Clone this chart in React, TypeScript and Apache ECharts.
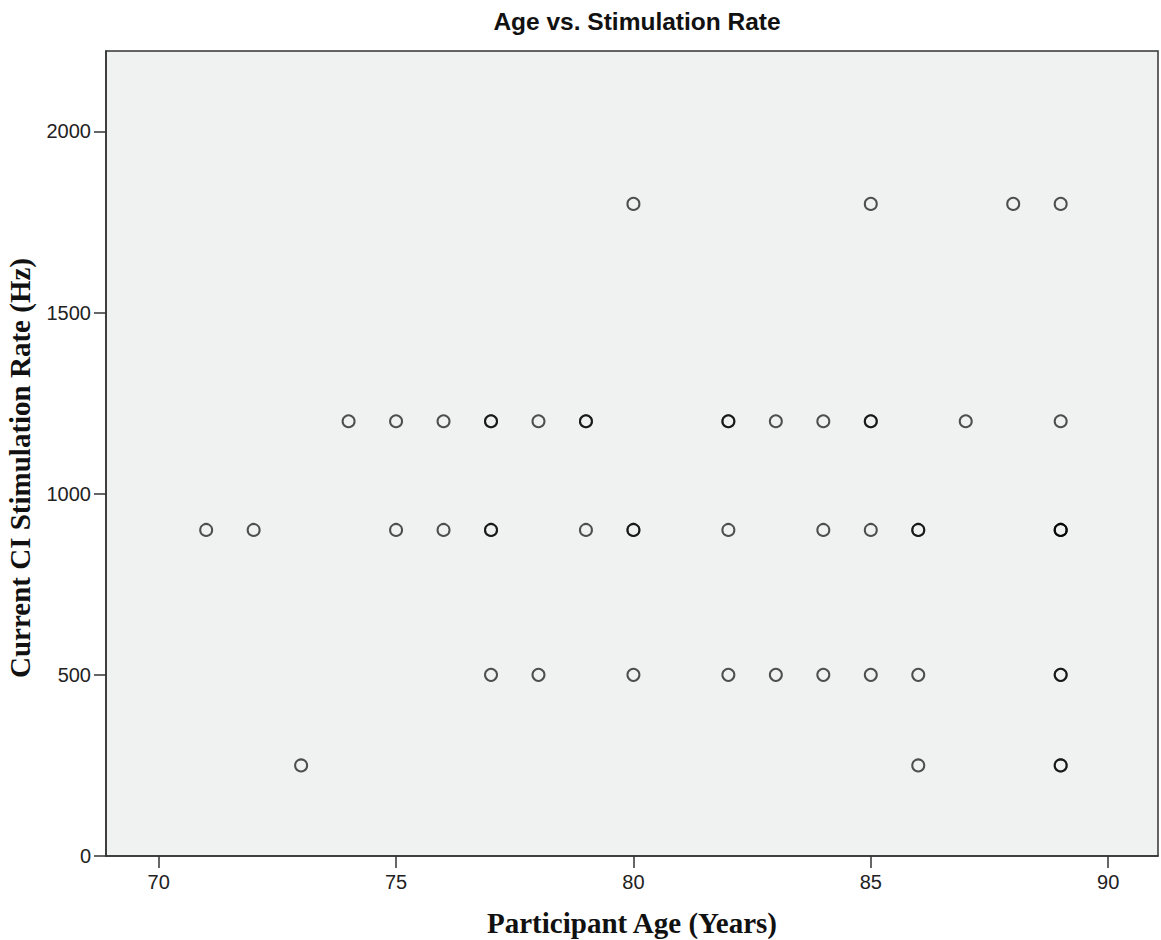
import React, { useEffect, useRef } from "react";
import * as echarts from "echarts";

const title = "Age vs. Stimulation Rate";
const xName = "Participant Age (Years)";
const yName = "Current CI Stimulation Rate (Hz)";
const xTicks = [70, 75, 80, 85, 90];
const yTicks = [0, 500, 1000, 1500, 2000];

// Participant ages (years)
const ages = [
  80, 85, 88, 89,
  74, 75, 76, 77, 77, 78, 79, 79, 82, 82, 83, 84, 85, 85, 87, 89,
  71, 72, 75, 76, 77, 77, 79, 80, 80, 82, 84, 85, 86, 86, 89, 89, 89,
  77, 78, 80, 82, 83, 84, 85, 86, 89, 89,
  73, 86, 89, 89,
];
// Current CI stimulation rate (Hz)
const rates = [
  1800, 1800, 1800, 1800,
  1200, 1200, 1200, 1200, 1200, 1200, 1200, 1200, 1200, 1200, 1200, 1200, 1200, 1200, 1200, 1200,
  900, 900, 900, 900, 900, 900, 900, 900, 900, 900, 900, 900, 900, 900, 900, 900, 900,
  500, 500, 500, 500, 500, 500, 500, 500, 500, 500,
  250, 250, 250, 250,
];

export default function App() {
  const ref = useRef<HTMLDivElement>(null);
  useEffect(() => {
    if (!ref.current) return;
    const chart = echarts.init(ref.current, null, { renderer: "svg" });
    const data = ages.map((a, i) => [a, rates[i]]);
    chart.setOption({
      animation: false,
      backgroundColor: "#ffffff",
      title: {
        text: title,
        left: 632,
        top: 4,
        textAlign: "center",
        textStyle: { fontFamily: "Liberation Sans", fontWeight: "bold", fontSize: 24.5, color: "#111" },
      },
      graphic: [
        {
          type: "text",
          x: 20,
          y: 468,
          rotation: Math.PI / 2,
          style: {
            text: yName,
            fontFamily: "Liberation Serif",
            fontWeight: "bold",
            fontSize: 29,
            fill: "#111",
            align: "center",
            verticalAlign: "middle",
          },
        },
      ],
      grid: {
        left: 106,
        top: 51,
        right: 3,
        bottom: 84,
        outerBoundsMode: "none",
        containLabel: false,
        show: true,
        backgroundColor: "#f0f1f1",
        borderColor: "#333",
        borderWidth: 1.5,
      },
      xAxis: {
        type: "value",
        min: 68.89,
        max: 91.05,
        name: xName,
        nameLocation: "middle",
        nameGap: 52,
        nameTextStyle: { fontFamily: "Liberation Serif", fontWeight: "bold", fontSize: 29, color: "#111" },
        axisLine: { show: true, lineStyle: { color: "#333", width: 1.5 } },
        axisTick: { show: true, length: 12, customValues: xTicks, lineStyle: { color: "#333", width: 1.5 } },
        axisLabel: {
          customValues: xTicks,
          formatter: (v: number) => String(v),
          fontFamily: "Liberation Sans",
          fontSize: 20,
          color: "#222",
          margin: 16,
        },
        splitLine: { show: false },
      },
      yAxis: {
        type: "value",
        min: 0,
        max: 2222,
        axisLine: { show: true, lineStyle: { color: "#333", width: 1.5 } },
        axisTick: { show: true, length: 12, customValues: yTicks, lineStyle: { color: "#333", width: 1.5 } },
        axisLabel: {
          customValues: yTicks,
          formatter: (v: number) => String(v),
          fontFamily: "Liberation Sans",
          fontSize: 20,
          color: "#222",
          margin: 15,
        },
        splitLine: { show: false },
      },
      series: [
        {
          type: "scatter",
          data,
          symbol: "circle",
          symbolSize: 12,
          itemStyle: { color: "rgba(0,0,0,0)", borderColor: "rgba(0,0,0,0.85)", borderWidth: 2 },
        },
      ],
    });
    return () => chart.dispose();
  }, []);
  return <div ref={ref} style={{ position: "absolute", left: 0, top: 0, width: 1161, height: 940 }} />;
}
